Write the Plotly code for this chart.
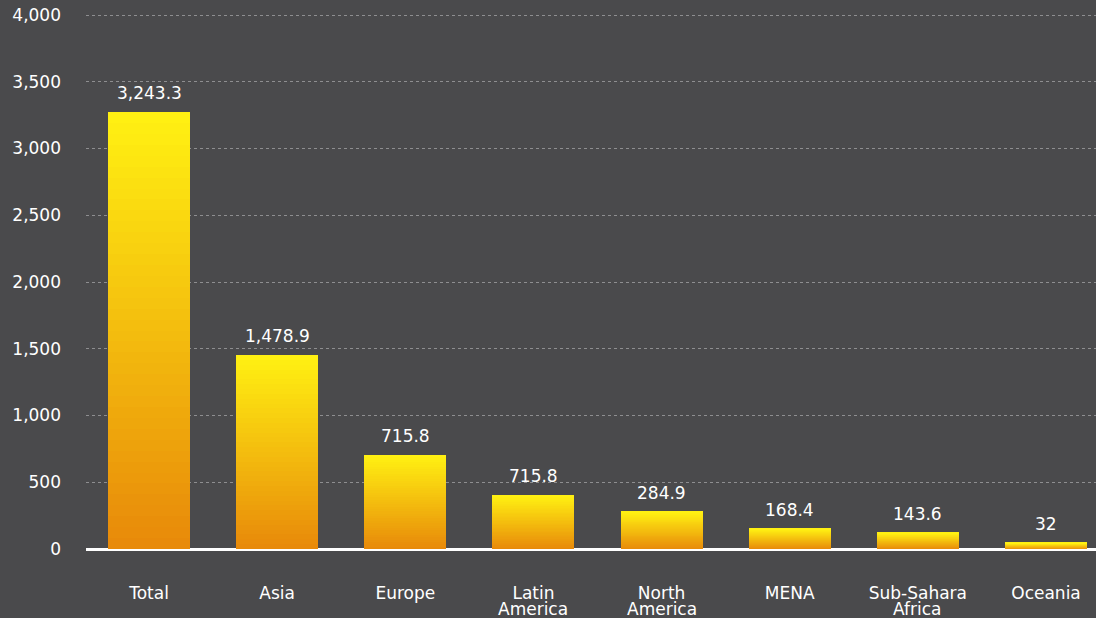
import plotly.graph_objects as go

categories = ["Total", "Asia", "Europe", "Latin<br>America", "North<br>America", "MENA", "Sub-Sahara<br>Africa", "Oceania"]
bar_values = [3273, 1453, 704, 404, 279, 150, 120, 45]
value_labels = ["3,243.3", "1,478.9", "715.8", "715.8", "284.9", "168.4", "143.6", "32"]
y_tickvals = [0, 500, 1000, 1500, 2000, 2500, 3000, 3500, 4000]
y_ticktext = ["0", "500", "1,000", "1,500", "2,000", "2,500", "3,000", "3,500", "4,000"]

BG = "#4a4a4c"
TOP = (255, 240, 18)
BOTTOM = (232, 138, 10)
N = 40
FONT = "DejaVu Sans"

x_pos = list(range(len(categories)))
first_lines = [c.split("<br>")[0] for c in categories]
second_lines = [c.split("<br>")[1] if "<br>" in c else "" for c in categories]

fig = go.Figure()
for i in range(N):
    t = i / (N - 1)
    c = tuple(round(BOTTOM[k] + (TOP[k] - BOTTOM[k]) * t) for k in range(3))
    fig.add_trace(go.Bar(
        x=x_pos,
        y=[v / N for v in bar_values],
        width=0.64,
        marker=dict(color="rgb(%d,%d,%d)" % c, line=dict(width=0)),
        showlegend=False,
        hoverinfo="skip",
    ))

for xp, v, lab in zip(x_pos, bar_values, value_labels):
    fig.add_annotation(
        x=xp, y=v, text=lab, showarrow=False,
        yanchor="bottom", xanchor="center", yshift=7,
        font=dict(family=FONT, size=17, color="white"),
    )

for xp, lab in zip(x_pos, second_lines):
    if lab:
        fig.add_annotation(
            x=xp, y=0, text=lab, showarrow=False,
            yanchor="middle", xanchor="center", yshift=-60,
            font=dict(family=FONT, size=17, color="white"),
        )

fig.update_layout(
    width=1096,
    height=618,
    barmode="stack",
    bargap=0,
    paper_bgcolor=BG,
    plot_bgcolor=BG,
    margin=dict(l=86, r=0, t=10, b=69, autoexpand=False),
    font=dict(family=FONT, color="white", size=17),
    xaxis=dict(
        range=[-0.4917, 7.39],
        tickvals=x_pos,
        ticktext=first_lines,
        showgrid=False,
        zeroline=False,
        showline=False,
        ticks="",
        ticklabelstandoff=32,
        automargin=False,
        tickfont=dict(family=FONT, size=17, color="white"),
        fixedrange=True,
    ),
    yaxis=dict(
        range=[0, 4037.5],
        tickvals=y_tickvals,
        ticktext=y_ticktext,
        showgrid=True,
        gridcolor="#8e8e90",
        griddash="dot",
        gridwidth=1,
        zeroline=True,
        zerolinecolor="white",
        zerolinewidth=3,
        showline=False,
        ticks="",
        ticklabelstandoff=24,
        automargin=False,
        tickfont=dict(family=FONT, size=17, color="white"),
        fixedrange=True,
    ),
)

fig.write_html(
    "out.html",
    config={"displayModeBar": False},
    post_script="document.body.style.margin='0';document.body.style.background='#4a4a4c';",
)
